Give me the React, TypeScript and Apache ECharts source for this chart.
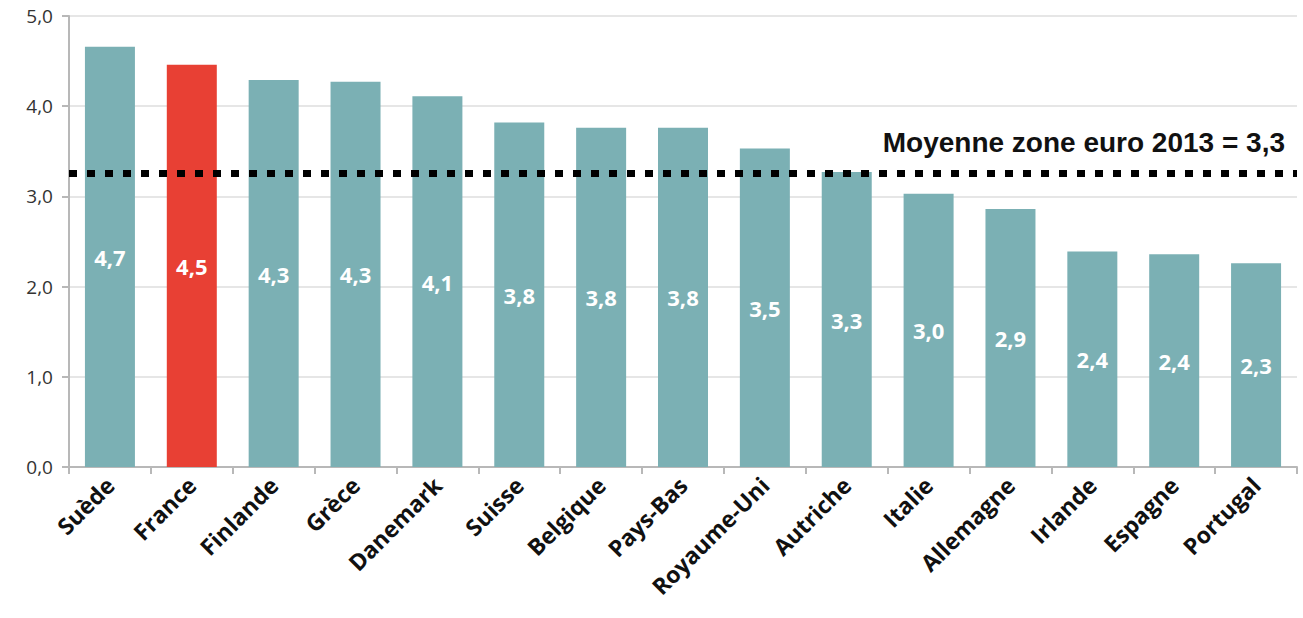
import React, { useEffect, useRef } from "react";
import * as echarts from "echarts";

const categories = ["Suède", "France", "Finlande", "Grèce", "Danemark", "Suisse", "Belgique", "Pays-Bas", "Royaume-Uni", "Autriche", "Italie", "Allemagne", "Irlande", "Espagne", "Portugal"];
const values = [4.66, 4.46, 4.29, 4.27, 4.11, 3.82, 3.76, 3.76, 3.53, 3.27, 3.03, 2.86, 2.39, 2.36, 2.26];
const highlighted = ["France"];
const averageValue = 3.26;
const averageLabel = "Moyenne zone euro 2013 = 3,3";

const TEAL = "#7bb0b4";
const RED = "#e84034";

export default function App() {
  const ref = useRef<HTMLDivElement>(null);
  useEffect(() => {
    document.body.style.margin = "0";
    const chart = echarts.init(ref.current!, null, { renderer: "svg" });
    chart.setOption({
      animation: false,
      grid: { left: 69, right: 6, top: 16, bottom: 151, containLabel: false },
      xAxis: {
        type: "category",
        data: categories,
        axisLine: { lineStyle: { color: "#b8b8b8", width: 2 } },
        axisTick: { show: true, length: 7, lineStyle: { color: "#b8b8b8", width: 2 } },
        axisLabel: {
          rotate: 45,
          margin: 14,
          interval: 0,
          fontFamily: "Open Sans",
          fontWeight: "bold",
          fontSize: 23,
          color: "#111",
        },
      },
      yAxis: {
        type: "value",
        min: 0,
        max: 5,
        interval: 1,
        axisLine: { show: true, lineStyle: { color: "#b8b8b8", width: 2 } },
        axisTick: { show: true, length: 7, lineStyle: { color: "#b8b8b8", width: 2 } },
        splitLine: { lineStyle: { color: "#e6e6e6", width: 2 } },
        axisLabel: {
          margin: 16,
          fontFamily: "Open Sans",
          fontSize: 19,
          color: "#333",
          formatter: (v: number) => v.toFixed(1).replace(".", ","),
        },
      },
      series: [
        {
          type: "bar",
          barWidth: 50,
          data: values.map((v, i) => ({
            value: v,
            itemStyle: { color: highlighted.includes(categories[i]) ? RED : TEAL },
          })),
          label: {
            show: true,
            position: "inside",
            color: "#fff",
            fontFamily: "Open Sans",
            fontWeight: "bold",
            fontSize: 22,
            formatter: (p: any) => (p.value as number).toFixed(1).replace(".", ","),
          },
          markLine: {
            silent: true,
            symbol: "none",
            data: [{ yAxis: averageValue }],
            lineStyle: { color: "#000", width: 7, type: [8, 10], cap: "butt" },
            label: {
              show: true,
              position: "insideEndTop",
              distance: [12, 16],
              formatter: averageLabel,
              fontFamily: "Liberation Sans",
              fontWeight: "bold",
              fontSize: 28,
              color: "#111",
            },
          },
        },
      ],
    });
    return () => chart.dispose();
  }, []);
  return <div ref={ref} style={{ width: 1303, height: 618 }} />;
}
